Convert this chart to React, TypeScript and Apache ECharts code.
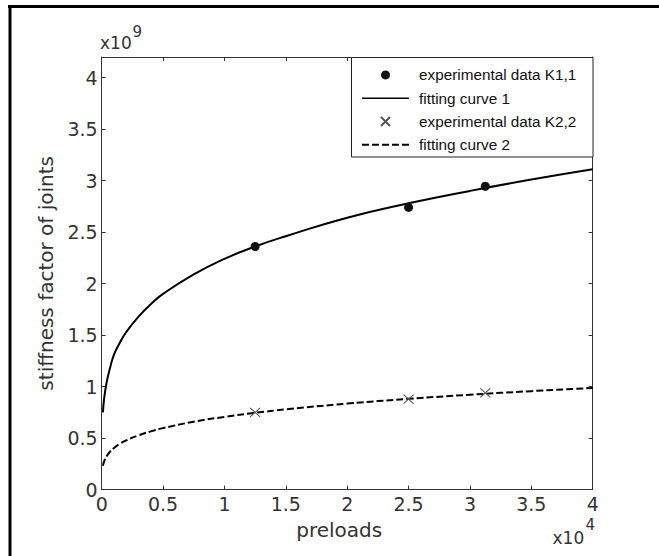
import React, { useEffect, useRef } from "react";
import * as echarts from "echarts";

// Experimental points (x in units of 1e4, y in units of 1e9)
const EXP_X = [1.25, 2.5, 3.125];
const EXP_K11 = [2.36, 2.74, 2.945];
const EXP_K22 = [0.749, 0.878, 0.939];

// Fitting curves
const FIT_X = [0.01, 0.02, 0.04, 0.07, 0.1, 0.15, 0.2, 0.3, 0.4, 0.5, 0.75, 1, 1.25, 1.5, 2, 2.5, 3, 3.5, 4];
const FIT_1 = [0.75, 0.885, 1.04, 1.19, 1.31, 1.43, 1.53, 1.68, 1.8, 1.9, 2.09, 2.24, 2.36, 2.46, 2.64, 2.78, 2.9, 3.01, 3.11];
const FIT_2 = [0.232, 0.274, 0.324, 0.371, 0.404, 0.446, 0.478, 0.527, 0.565, 0.597, 0.659, 0.706, 0.745, 0.779, 0.835, 0.881, 0.921, 0.956, 0.987];

const NAMES = ["experimental data K1,1", "fitting curve 1", "experimental data K2,2", "fitting curve 2"];

const X_MIN = 0, X_MAX = 4, X_STEP = 0.5;
const Y_MIN = 0, Y_MAX = 4.2, Y_STEP = 0.5;

const zip = (xs: number[], ys: number[]) => xs.map((x, i) => [x, ys[i]]);

const TXT = "#333";
const AX = "#333";
const FONT = "DejaVu Sans";

export default function App() {
  const ref = useRef<HTMLDivElement>(null);
  useEffect(() => {
    if (!ref.current) return;
    const chart = echarts.init(ref.current, null, { renderer: "svg" });
    const axisCommon = {
      type: "value" as const,
      axisLine: { show: true, onZero: false, lineStyle: { color: AX, width: 1 } },
      axisTick: { show: true, inside: true, length: 4, lineStyle: { color: AX } },
      splitLine: { show: false },
    };
    const hiddenSymbol = { color: "transparent", borderWidth: 0, opacity: 0 };
    chart.setOption({
      animation: false,
      backgroundColor: "#fff",
      grid: { left: 101.7, right: 66.3, top: 57, bottom: 66.4 },
      xAxis: [
        {
          ...axisCommon,
          min: X_MIN, max: X_MAX, interval: X_STEP, position: "bottom",
          axisLabel: { color: TXT, fontSize: 19, fontFamily: FONT, margin: 5 },
          name: "preloads", nameLocation: "middle", nameGap: 30,
          nameTextStyle: { color: TXT, fontSize: 20, fontFamily: FONT, padding: [0, 16, 0, 0] },
        },
        {
          ...axisCommon,
          min: X_MIN, max: X_MAX, interval: X_STEP, position: "top",
          axisLabel: { show: false },
        },
      ],
      yAxis: [
        {
          ...axisCommon,
          min: Y_MIN, max: Y_MAX, interval: Y_STEP, position: "left",
          axisLabel: { color: TXT, fontSize: 19, fontFamily: FONT, margin: 4, showMaxLabel: false },
          name: "stiffness factor of joints", nameLocation: "middle", nameGap: 46,
          nameTextStyle: { color: TXT, fontSize: 20, fontFamily: FONT },
        },
        {
          ...axisCommon,
          min: Y_MIN, max: Y_MAX, interval: Y_STEP, position: "right",
          axisLabel: { show: false },
        },
      ],
      legend: {
        orient: "vertical",
        left: 356,
        top: 63.3,
        padding: [0, 5],
        itemGap: 0,
        itemWidth: 47,
        itemHeight: 9,
        selectedMode: false,
        textStyle: { fontFamily: "Liberation Sans", fontSize: 15.3, color: "#111", lineHeight: 23.3, padding: [0, 0, 0, 5] },
        data: [
          { name: NAMES[0] },
          { name: NAMES[1], lineStyle: { width: 1.3 }, itemStyle: hiddenSymbol },
          { name: NAMES[2] },
          { name: NAMES[3], lineStyle: { width: 2 }, itemStyle: hiddenSymbol },
        ],
      },
      graphic: [
        {
          type: "rect", z: 3,
          shape: { x: 351.5, y: 57.5, width: 241.5, height: 99.5 },
          style: { fill: "#fff", stroke: "#222", lineWidth: 1 },
        },
        { type: "line", shape: { x1: 8, y1: 6.5, x2: 659, y2: 6.5 }, style: { stroke: "#000", lineWidth: 3 } },
        { type: "line", shape: { x1: 10, y1: 5, x2: 10, y2: 556 }, style: { stroke: "#000", lineWidth: 3 } },
        { type: "text", x: 100, y: 43, style: { text: "x10", fill: TXT, font: `17px ${FONT}`, verticalAlign: "middle" } },
        { type: "text", x: 132.5, y: 32, style: { text: "9", fill: TXT, font: `15px ${FONT}`, verticalAlign: "middle" } },
        { type: "text", x: 552.5, y: 538, style: { text: "x10", fill: TXT, font: `17px ${FONT}`, verticalAlign: "middle" } },
        { type: "text", x: 585.5, y: 524.5, style: { text: "4", fill: TXT, font: `15px ${FONT}`, verticalAlign: "middle" } },
      ],
      series: [
        {
          name: NAMES[0], type: "scatter", xAxisIndex: 0, yAxisIndex: 0,
          data: zip(EXP_X, EXP_K11), symbol: "circle", symbolSize: 9,
          itemStyle: { color: "#111", opacity: 1 }, z: 4,
        },
        {
          name: NAMES[1], type: "line", xAxisIndex: 0, yAxisIndex: 0,
          data: zip(FIT_X, FIT_1), symbol: "none", smooth: true,
          lineStyle: { color: "#000", width: 2 }, itemStyle: { color: "#000" },
        },
        {
          name: NAMES[2], type: "scatter", xAxisIndex: 0, yAxisIndex: 0,
          data: zip(EXP_X, EXP_K22), symbol: "path://M0,0L10,10M0,10L10,0", symbolSize: [10, 9],
          itemStyle: { color: "transparent", borderColor: "#555", borderWidth: 1, opacity: 1 }, z: 4,
        },
        {
          name: NAMES[3], type: "line", xAxisIndex: 0, yAxisIndex: 0,
          data: zip(FIT_X, FIT_2), symbol: "none", smooth: true,
          lineStyle: { color: "#000", width: 2, type: [7, 3] }, itemStyle: { color: "#000" },
        },
      ],
    });
    return () => chart.dispose();
  }, []);
  return <div ref={ref} style={{ position: "absolute", left: 0, top: 0, width: 659, height: 556 }} />;
}
